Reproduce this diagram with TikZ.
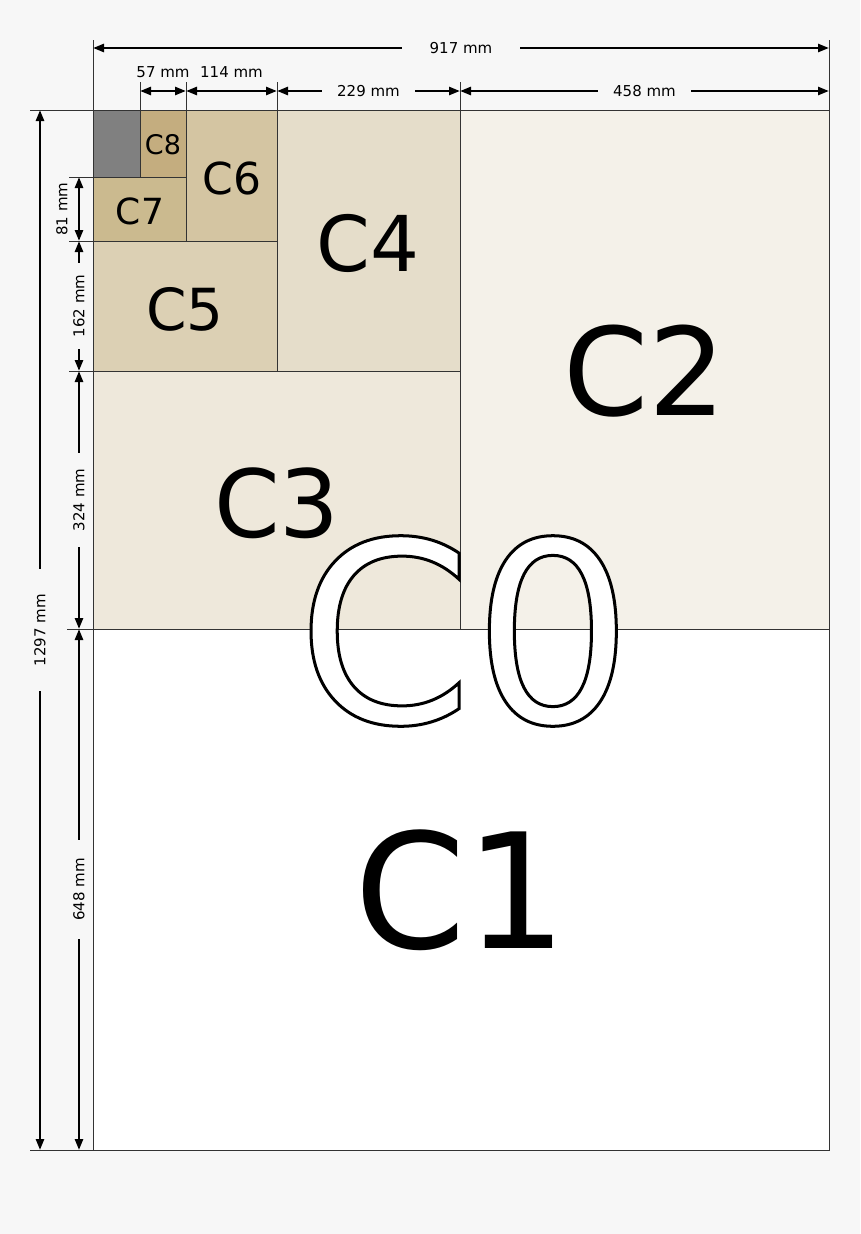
\documentclass[tikz,border=0pt]{standalone}
\usepackage{fontspec}
\setmainfont{DejaVu Sans}
\usetikzlibrary{arrows.meta}
\definecolor{bgc}{HTML}{F7F7F7}
\definecolor{pgray}{HTML}{808080}
\definecolor{cii}{HTML}{F4F1E9}
\definecolor{ciii}{HTML}{EEE8DB}
\definecolor{civ}{HTML}{E5DDCA}
\definecolor{cv}{HTML}{DCD0B4}
\definecolor{cvi}{HTML}{D4C5A2}
\definecolor{cvii}{HTML}{CBBA8F}
\definecolor{cviii}{HTML}{C4AD7F}
% outlined text: white fill, black stroke
\newcommand{\outlinetext}[1]{\textcolor{white}{\special{pdf:literal direct 2 Tr 3 w 0 0 0 RG}#1}}
\tikzset{
  dim/.style={{Triangle[length=11pt,width=8pt]}-{Triangle[length=11pt,width=8pt]},line width=2.5pt},
  ext/.style={line width=0.9pt,black!80},
  dimlabel/.style={fill=bgc,font=\fontsize{15}{18}\selectfont,inner ysep=2pt},
  clabel/.style={font=\fontsize{#1}{#1}\selectfont,inner sep=0pt},
}
\begin{document}
\begin{tikzpicture}[x=1pt,y=-1pt]
\fill[bgc] (0,0) rectangle (860,1234);
\useasboundingbox (0,0) rectangle (860,1234);

\begin{scope}
% sheets
\draw[ext,fill=white] (93,629) rectangle (829,1150);
\draw[ext,fill=cii] (460,110) rectangle (829,629);
\draw[ext,fill=ciii] (93,371) rectangle (460,629);
\draw[ext,fill=civ] (277,110) rectangle (460,371);
\draw[ext,fill=cv] (93,241) rectangle (277,371);
\draw[ext,fill=cvi] (186,110) rectangle (277,241);
\draw[ext,fill=cvii] (93,177) rectangle (186,241);
\draw[ext,fill=cviii] (140,110) rectangle (186,177);
\draw[ext,fill=pgray] (93,110) rectangle (140,177);

\node[clabel=27] (c8) at (163,145) {C8};
\node[clabel=36] (c7) at (140,211) {C7};
\node[clabel=44] (c6) at (232,178) {C6};
\node[clabel=58] (c5) at (185,309) {C5};
\node[clabel=77] (c4) at (368,243) {C4};
\node[clabel=94] (c3) at (277,503) {C3};
\node[clabel=122] (c2) at (645,371) {C2};
\node[clabel=160] (c1) at (461,890) {C1};
\end{scope}

\begin{scope}
% extension lines
\coordinate (w0) at (93,48);
\coordinate (w1) at (829,48);
\coordinate (u0) at (140,91);
\coordinate (u1) at (186,91);
\coordinate (u2) at (277,91);
\coordinate (u3) at (460,91);
\coordinate (u4) at (829,91);
\coordinate (h0) at (40,110);
\coordinate (h1) at (40,1150);
\coordinate (v0) at (79,177);
\coordinate (v1) at (79,241);
\coordinate (v2) at (79,371);
\coordinate (v3) at (79,629);
\coordinate (v4) at (79,1150);

\draw[ext] (93,40) -- (93,1150);
\draw[ext] (829,40) -- (829,1150);
\draw[ext] (140,82) -- (140,177);
\draw[ext] (186,82) -- (186,241);
\draw[ext] (277,82) -- (277,371);
\draw[ext] (460,82) -- (460,629);
\draw[ext] (30,110) -- (829,110);
\draw[ext] (30,1150) -- (829,1150);
\draw[ext] (69,177) -- (186,177);
\draw[ext] (69,241) -- (277,241);
\draw[ext] (69,371) -- (460,371);
\draw[ext] (67,629) -- (829,629);

\draw[dim] (w0) -- node[dimlabel,inner xsep=28pt] (l917) {917 mm} (w1);
\draw[dim] (u0) -- node[dimlabel,fill=none,yshift=19pt] (l57) {57 mm} (u1);
\draw[dim] (u1) -- node[dimlabel,fill=none,yshift=19pt] (l114) {114 mm} (u2);
\draw[dim] (u2) -- node[dimlabel,inner xsep=15pt] (l229) {229 mm} (u3);
\draw[dim] (u3) -- node[dimlabel,inner xsep=15pt] (l458) {458 mm} (u4);

\draw[dim] (h0) -- node[dimlabel,rotate=90,inner xsep=25pt] (l1297) {1297 mm} (h1);
\draw[dim] (v0) -- (v1);
\node[dimlabel,fill=none,rotate=90] (l81) at (62,209) {81 mm};
\draw[dim] (v1) -- node[dimlabel,rotate=90,inner xsep=12pt] (l162) {162 mm} (v2);
\draw[dim] (v2) -- node[dimlabel,rotate=90,inner xsep=16pt] (l324) {324 mm} (v3);
\draw[dim] (v3) -- node[dimlabel,rotate=90,inner xsep=18pt] (l648) {648 mm} (v4);
\end{scope}

\node[clabel=252] (c0) at (465,631) {\outlinetext{C0}};

\end{tikzpicture}
\end{document}
